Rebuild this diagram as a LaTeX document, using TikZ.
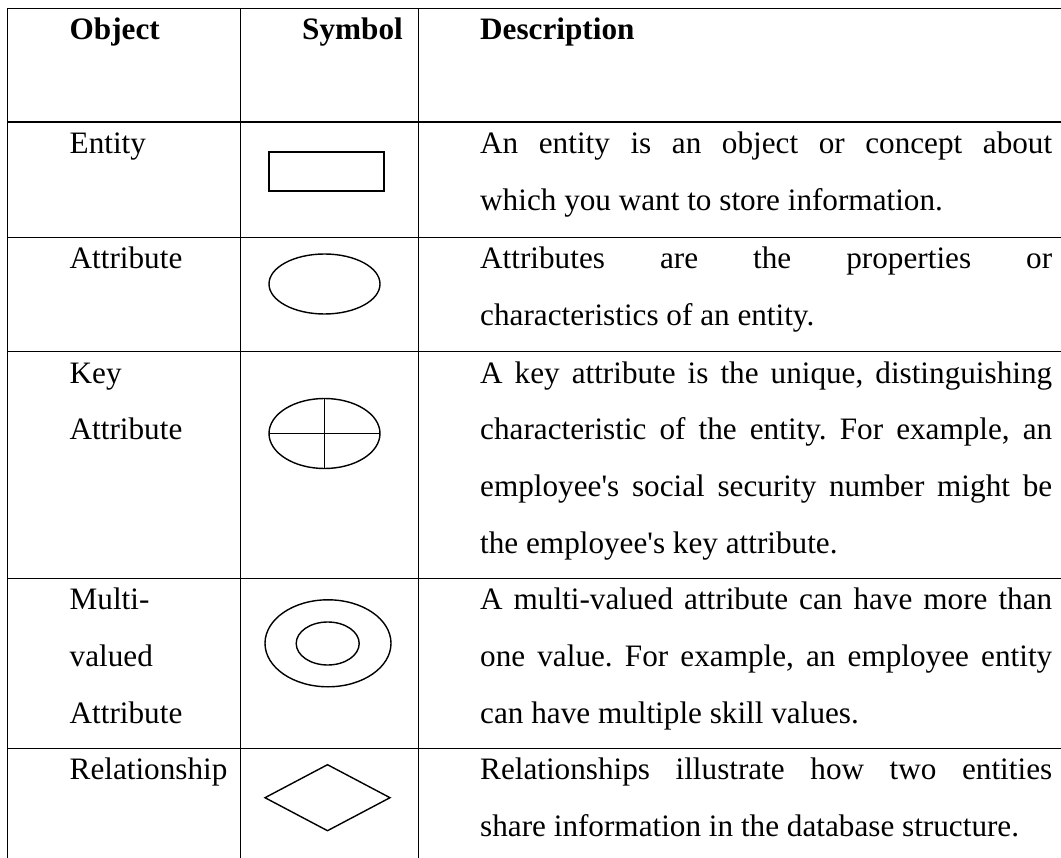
\documentclass[tikz,border=0pt]{standalone}
\usepackage{fontspec}
\setmainfont{Liberation Serif}
\usetikzlibrary{shapes.geometric}
% one justified line of the description column
\newcommand\justline[1]{\makebox[572pt][s]{#1}}
\newcommand\apos{\textquotesingle}
\frenchspacing
\begin{document}
\begin{tikzpicture}[x=1pt,y=-1pt,
  rule/.style={line width=1.1pt, black},
  sym/.style={draw, line width=1.4pt, black, inner sep=0pt, outer sep=0pt},
  txt/.style={inner sep=0pt, anchor=base west, font=\fontsize{31.2}{38}\selectfont},
  hdr/.style={txt, font=\fontsize{31.2}{38}\selectfont\bfseries}]
\useasboundingbox (0,0) rectangle (1061,858);
\fill[white] (0,0) rectangle (1061,858);

% table rules
\foreach \yy in {8.3,122,237.3,351.7,578.3,748.3}
  \draw[rule] (7.3,\yy) -- (1061,\yy);
\foreach \xx in {7.3,240.7,418.3}
  \draw[rule] (\xx,8.3) -- (\xx,858);

% header row
\node[hdr] (hObj) at (69.5,40) {Object};
\node[hdr, anchor=base east] (hSym) at (403,40) {Symbol};
\node[hdr] (hDesc) at (480,40) {Description};

% entity row
\node[txt] (oEnt) at (69.5,153.6) {Entity};
\node[sym, rectangle, minimum width=115, minimum height=39] (sEnt) at (326.5,171.5) {};
\node[txt] (dEnt1) at (480,153.6) {\justline{An entity is an object or concept about}};
\node[txt] (dEnt2) at (480,210.2) {which you want to store information.};

% attribute row
\node[txt] (oAtt) at (69.5,268.9) {Attribute};
\node[sym, ellipse, minimum width=111, minimum height=60] (sAtt) at (324.5,284) {};
\node[txt] (dAtt1) at (480,268.9) {\justline{Attributes are the properties or}};
\node[txt] (dAtt2) at (480,325.5) {characteristics of an entity.};

% key attribute row
\node[txt] (oKey1) at (69.5,383.3) {Key};
\node[txt] (oKey2) at (69.5,439.9) {Attribute};
\node[sym, ellipse, minimum width=111, minimum height=70] (sKey) at (324.5,433.5) {};
\draw[line width=1.4pt] (sKey.west) -- (sKey.east);
\draw[line width=1.4pt] (sKey.north) -- (sKey.south);
\node[txt] (dKey1) at (480,383.3) {\justline{A key attribute is the unique, distinguishing}};
\node[txt] (dKey2) at (480,439.9) {\justline{characteristic of the entity. For example, an}};
\node[txt] (dKey3) at (480,496.5) {\justline{employee\apos s social security number might be}};
\node[txt] (dKey4) at (480,553.1) {the employee\apos s key attribute.};

% multi-valued attribute row
\node[txt] (oMul1) at (69.5,609.9) {Multi-};
\node[txt] (oMul2) at (69.5,666.5) {valued};
\node[txt] (oMul3) at (69.5,723.1) {Attribute};
\node[sym, ellipse, minimum width=126, minimum height=87] (sMulOut) at (328,643.3) {};
\node[sym, ellipse, minimum width=63, minimum height=43] (sMulIn) at (327.7,643.5) {};
\node[txt] (dMul1) at (480,609.9) {\justline{A multi-valued attribute can have more than}};
\node[txt] (dMul2) at (480,666.5) {\justline{one value. For example, an employee entity}};
\node[txt] (dMul3) at (480,723.1) {can have multiple skill values.};

% relationship row
\node[txt] (oRel) at (69.5,779.9) {Relationship};
\node[sym, diamond, minimum width=125, minimum height=66] (sRel) at (327.5,797.7) {};
\node[txt] (dRel1) at (480,779.9) {\justline{Relationships illustrate how two entities}};
\node[txt] (dRel2) at (480,836.5) {share information in the database structure.};
\end{tikzpicture}
\end{document}
